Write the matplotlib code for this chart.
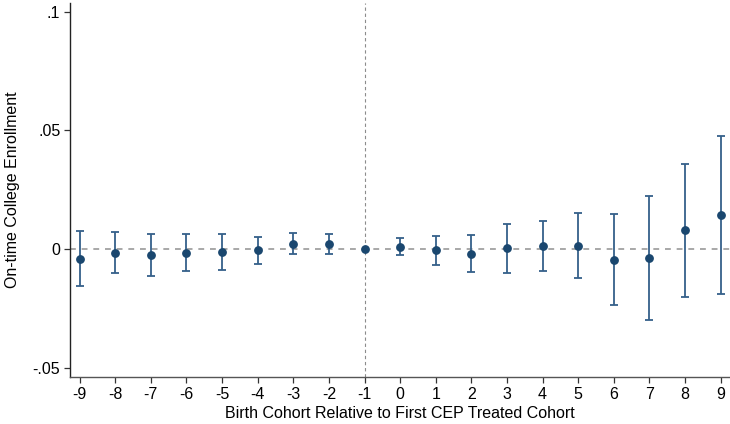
import matplotlib
matplotlib.use("Agg")
import matplotlib.pyplot as plt
import numpy as np

plt.rcParams['font.family'] = ['Liberation Sans', 'DejaVu Sans']

# cohort relative to first treated cohort
cohort = [-9, -8, -7, -6, -5, -4, -3, -2, -1, 0, 1, 2, 3, 4, 5, 6, 7, 8, 9]
coef = [-0.0042, -0.0016, -0.0027, -0.0017, -0.0014, -0.0006, 0.0022, 0.0022, 0.0,
        0.0010, -0.0006, -0.0020, 0.0003, 0.0011, 0.0013, -0.0048, -0.0038, 0.0079, 0.0143]
ci_hi = [0.0075, 0.0070, 0.0063, 0.0062, 0.0062, 0.0052, 0.0066, 0.0062, 0.0,
         0.0046, 0.0053, 0.0060, 0.0107, 0.0119, 0.0152, 0.0146, 0.0225, 0.0359, 0.0476]
ci_lo = [-0.0156, -0.0101, -0.0114, -0.0094, -0.0090, -0.0065, -0.0022, -0.0020, 0.0,
         -0.0027, -0.0066, -0.0098, -0.0100, -0.0093, -0.0122, -0.0237, -0.0300, -0.0202, -0.0188]

ytick_vals = [-0.05, 0, 0.05, 0.1]
ytick_labels = ['-.05', '0', '.05', '.1']

x = np.array(cohort)
y = np.array(coef)
hi = np.array(ci_hi)
lo = np.array(ci_lo)

fig = plt.figure(figsize=(7.3, 4.24), dpi=100)
ax = fig.add_axes([0.0959, 0.111, 0.904, 0.882])

ax.axhline(0, color='#a8a8a8', ls=(0, (3, 3)), lw=1.4, zorder=1)
ax.axvline(-1, color='#8c8c8c', ls=(0, (3, 2.5)), lw=0.8, zorder=1)

has_ci = hi != lo
ax.errorbar(x[has_ci], y[has_ci], yerr=[y[has_ci] - lo[has_ci], hi[has_ci] - y[has_ci]],
            fmt='none', ecolor='#35608a', elinewidth=1.3, capsize=3, capthick=1.3, zorder=2)
ax.plot(x, y, 'o', color='#1a476f', markersize=5.3, zorder=3)

ax.set_xlim(-9.27, 9.26)
ax.set_ylim(-0.0539, 0.1036)
ax.set_xticks(cohort)
ax.set_xticklabels([str(c) for c in cohort], fontsize=11.5)
ax.set_yticks(ytick_vals)
ax.set_yticklabels(ytick_labels, fontsize=11.5)

ax.set_xlabel('Birth Cohort Relative to First CEP Treated Cohort', fontsize=11.5, labelpad=3)
ax.set_ylabel('On-time College Enrollment', fontsize=11.5, labelpad=9)

ax.spines['top'].set_visible(False)
ax.spines['right'].set_visible(False)
ax.spines['left'].set_color('#222222')
ax.spines['bottom'].set_color('#555555')
ax.spines['left'].set_linewidth(1.0)
ax.spines['bottom'].set_linewidth(1.0)
ax.tick_params(axis='both', length=4, width=0.9, color='#333333', pad=3)

fig.savefig('out.png', dpi=100)
